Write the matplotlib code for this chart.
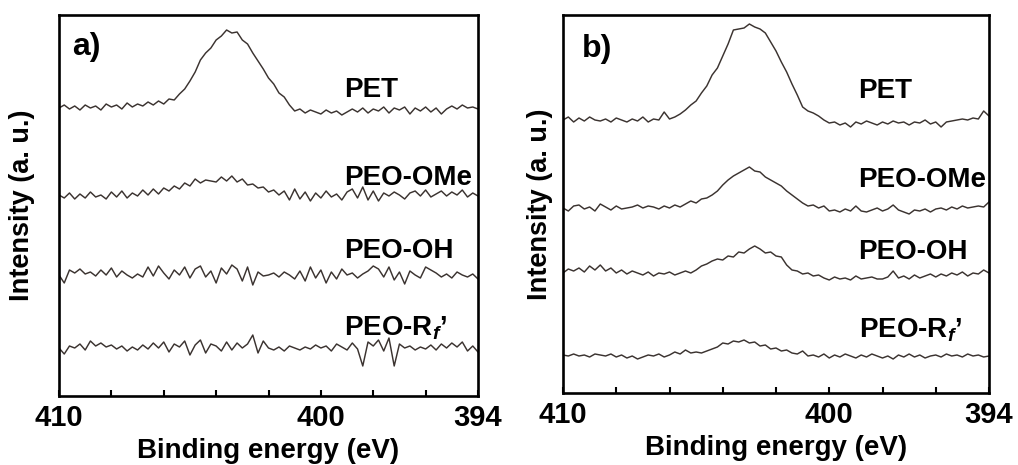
import numpy as np
import matplotlib
matplotlib.use("Agg")
import matplotlib.pyplot as plt

plt.rcParams["font.family"] = ["Liberation Sans", "DejaVu Sans"]
plt.rcParams["font.weight"] = "bold"
plt.rcParams["mathtext.fontset"] = "custom"
plt.rcParams["mathtext.it"] = "Liberation Sans:bold:italic"
plt.rcParams["mathtext.rm"] = "Liberation Sans:bold"

# Binding energy grid (eV), 0.2 eV steps from 410 down to 394
energy = np.linspace(410.0, 394.0, 81)

samples = ["PET", "PEO-OMe", "PEO-OH", "PEO-R$_{f}$’"]

# Panel a) intensity above each trace's baseline (a.u.)
a_pet = [0, 3, -1, 2, -2, 3, 0, 2, -2, 4, 1, 3, -1, 5, 1, 4, 2, 6, 3, 7,
         4, 9, 8, 14, 19, 27, 36, 48, 55, 60, 68, 72, 78, 75, 76, 68, 64, 55, 47, 39,
         30, 24, 15, 11, 3, -3, -1, -5, -2, -4, -6, -2, -5, -3, -7, -4, -1, -4, 0, -5,
         -1, -3, 1, -5, 0, -2, 1, -6, 0, -3, 1, -4, 0, -6, -1, 2, -1, 3, 0, 1, -1]
a_ome = [0, -3, 2, -4, 1, -3, 3, -2, 0, -4, 3, -2, 4, -3, 2, -1, 5, 0, 6, 1,
         7, 4, 9, 6, 12, 9, 16, 12, 15, 14, 13, 18, 14, 19, 13, 16, 10, 11, 7, 8,
         3, 5, 0, 4, -5, 6, -4, 3, -6, 2, -3, 4, -2, 1, -5, 3, 6, -3, 8, -5,
         4, -6, 2, -1, 3, 0, -4, 2, 4, -1, 5, -2, 1, 4, -1, 3, 0, 5, -2, 2, -1]
a_oh = [0, -8, 5, 2, 6, 1, 3, -1, 5, 0, 7, -2, 4, 0, -3, 1, -2, 8, -1, 9,
        2, -4, 5, 0, 8, -3, 6, 9, -2, 4, -8, 7, 1, 10, 6, -6, 8, -10, 3, -1,
        0, 2, -2, 3, 0, -4, 4, -6, 8, -3, 5, -8, 3, -4, 6, 0, 2, -3, 1, 4,
        9, 6, -2, 8, -5, 3, -9, 4, 0, -3, 8, 5, 2, -2, 1, -3, 3, 0, -2, 1, -4]
a_rf = [0, -6, 2, 0, 4, -2, 7, 2, 5, 1, 3, -1, 2, -3, 1, -2, 3, -1, 5, 0,
        6, -4, 4, 1, 7, -7, 3, 8, -5, 4, 2, -3, 6, -2, 5, 0, 4, 13, -5, 7,
        0, -2, 1, -3, 2, 0, -2, 1, -1, 3, 0, 2, -3, 4, 1, -2, 5, -1, -18, 6,
        2, 8, -3, 10, -18, 4, 0, 2, -2, 1, -1, 3, -2, 4, 0, 5, 1, 6, -3, 2, -4]

# Panel b) intensity above each trace's baseline (a.u.)
b_pet = [0, 3, -2, 2, -1, 3, 0, -1, 1, -2, 2, 0, -2, 1, -1, 3, -2, 1, 0, 8,
         1, 3, 6, 10, 15, 19, 27, 34, 45, 52, 64, 76, 90, 91, 92, 96, 93, 91, 87, 78,
         69, 58, 48, 36, 25, 13, 9, 7, 4, 0, -3, -2, -5, -3, -7, -2, -4, -1, -3, -5,
         -2, -4, -1, -3, -2, -5, -2, -3, 0, -4, -2, -7, -2, -1, 0, 1, 0, 2, 1, 9, 4]
b_ome = [0, -3, 2, 3, -1, 1, -3, 4, 1, -2, 2, -1, 0, 1, 3, 0, 2, 1, -1, 2,
         0, 3, 1, 4, 7, 5, 9, 10, 13, 17, 23, 28, 32, 35, 38, 41, 37, 36, 31, 28,
         25, 22, 17, 13, 9, 5, 2, 3, 0, 2, -3, -2, -4, -1, -3, 2, -3, -4, -2, 0,
         -3, -1, 3, -2, -4, -6, -2, -3, -1, -4, -1, 0, -2, 1, -1, 2, 0, 1, 2, 1, 6]
b_oh = [0, 4, 2, 5, 1, 7, 3, 8, 2, 5, 0, 3, -1, 2, 0, -2, 1, -3, 0, -1,
        1, -2, 0, 2, 0, 3, 7, 9, 12, 14, 13, 17, 16, 21, 20, 24, 27, 24, 20, 21,
        17, 16, 8, 3, 2, -1, 0, -3, -2, -5, -7, -4, -6, -5, -7, -3, -6, -5, -4, -6,
        -6, -4, 2, -5, -3, -6, -2, -5, -3, -1, -4, -1, -3, 0, -2, 1, -3, 0, -1, 3, 0]
b_rf = [0, -1, 1, -1, 0, -2, 1, 0, -1, 1, -2, 0, -3, -1, -4, -2, 0, -1, 1, -2,
        0, 3, 1, 5, 2, 3, 2, 4, 6, 8, 12, 11, 14, 13, 15, 12, 13, 9, 10, 6,
        7, 4, 5, 2, 1, 4, -1, 0, -2, 1, -3, 0, -2, 1, -1, -3, 0, -2, 1, -1,
        -3, -1, -4, 0, -2, 1, -2, 0, -3, -1, 0, -2, 1, -1, 0, -2, 1, -1, 0, -2, -1]

panels = [
    dict(tag="a)", traces=[a_pet, a_ome, a_oh, a_rf], offsets=[288, 201, 121, 48],
         label_y=[299, 211, 138, 61], label_x=399.1, ymax=381, tag_xy=(409.5, 341),
         rect=[59 / 1018, 1 - 396 / 465, 419 / 1018, 381 / 465], ylabelpad=17),
    dict(tag="b)", traces=[b_pet, b_ome, b_oh, b_rf], offsets=[273, 185, 120, 38],
         label_y=[295, 206, 134, 56], label_x=398.9, ymax=378, tag_xy=(409.3, 336),
         rect=[563 / 1018, 1 - 393 / 465, 426 / 1018, 378 / 465], ylabelpad=7.5),
]

line_color = "#3b3330"

fig = plt.figure(figsize=(10.18, 4.65), dpi=100)
for p in panels:
    ax = fig.add_axes(p["rect"])
    for trace, off, ly, name in zip(p["traces"], p["offsets"], p["label_y"], samples):
        ax.plot(energy, np.asarray(trace) + off, color=line_color, lw=1.05)
        ax.text(p["label_x"], ly, name, fontsize=20, fontweight="bold",
                ha="left", va="baseline")
    ax.text(*p["tag_xy"], p["tag"], fontsize=23, fontweight="bold",
            ha="left", va="baseline")
    ax.set_xlim(410, 394)
    ax.set_ylim(0, p["ymax"])
    ax.set_xticks([410, 400, 394])
    ax.set_xticks([408, 406, 404, 402, 398, 396], minor=True)
    ax.set_yticks([])
    ax.tick_params(axis="x", which="both", direction="in", length=4, width=1.5,
                   labelsize=21, pad=6)
    for lab in ax.get_xticklabels():
        lab.set_fontweight("bold")
    for s in ax.spines.values():
        s.set_linewidth(1.9)
    ax.set_xlabel("Binding energy (eV)", fontsize=20, fontweight="bold", labelpad=4)
    ax.set_ylabel("Intensity (a. u.)", fontsize=19.5, fontweight="bold",
                  labelpad=p["ylabelpad"])

fig.savefig("out.png", dpi=100)
